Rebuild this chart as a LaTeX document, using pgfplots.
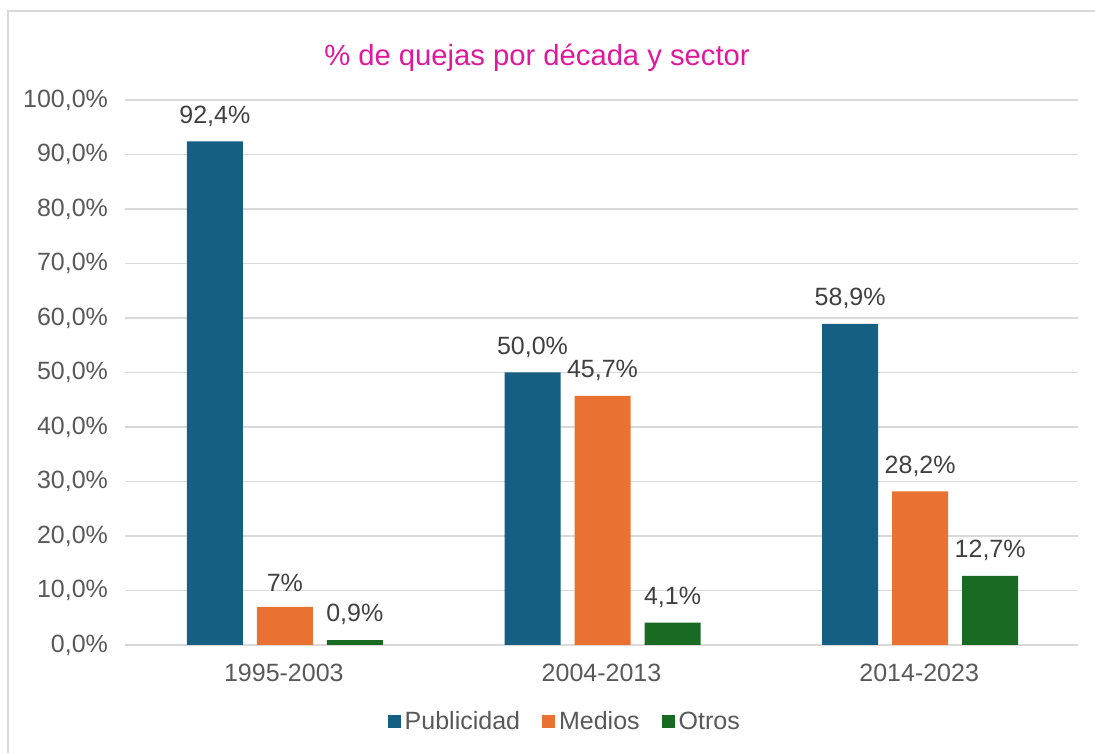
\documentclass[border=0pt]{standalone}
\usepackage{fontspec}
\setmainfont{Liberation Sans}
\usepackage{pgfplots}
\pgfplotsset{compat=1.18}

\definecolor{pub}{HTML}{156082}
\definecolor{med}{HTML}{E97132}
\definecolor{otr}{HTML}{196B24}
\definecolor{gridc}{HTML}{D9D9D9}
\definecolor{txt}{HTML}{595959}
\definecolor{lbl}{HTML}{404040}
\definecolor{ttl}{HTML}{E0189B}

\begin{document}
\begin{tikzpicture}
\begin{axis}[
  at={(0,0)}, anchor=south west,
  scale only axis, width=476.5pt, height=272.5pt,
  ybar, bar width=28pt,
  xmin=-0.5, xmax=2.5, ymin=0, ymax=100,
  enlargelimits=false,
  axis line style={draw=none},
  major tick length=0pt,
  ymajorgrids, grid style={gridc, line width=0.75pt},
  xtick={0,1,2}, xticklabels={1995-2003,2004-2013,2014-2023},
  ytick={0,10,20,30,40,50,60,70,80,90,100},
  yticklabels={{0,0\%},{10,0\%},{20,0\%},{30,0\%},{40,0\%},{50,0\%},{60,0\%},{70,0\%},{80,0\%},{90,0\%},{100,0\%}},
  ticklabel style={font=\fontsize{12.5}{15}\selectfont, text=txt},
  xticklabel style={yshift=-6pt},
  yticklabel style={xshift=-5pt},
  point meta=explicit symbolic,
  nodes near coords,
  nodes near coords style={font=\fontsize{12.5}{15}\selectfont, text=lbl, anchor=south, yshift=4pt},
  legend columns=3,
  legend style={at={(0.4625,-0.141)}, anchor=center, draw=none,
    font=\fontsize{12.5}{15}\selectfont, text=txt,
    /tikz/every even column/.append style={column sep=9pt}},
  legend image code/.code={\fill[#1] (0pt,-3.25pt) rectangle (6.5pt,3.25pt);},
]
\addplot[fill=pub, draw=none, bar shift=-34.5pt] coordinates {(0,92.4) [92,4\%] (1,50.0) [50,0\%] (2,58.9) [58,9\%]};
\addplot[fill=med, draw=none, bar shift=0.5pt] coordinates {(0,7.0) [7\%] (1,45.7) [45,7\%] (2,28.2) [28,2\%]};
\addplot[fill=otr, draw=none, bar shift=35.5pt] coordinates {(0,0.9) [0,9\%] (1,4.1) [4,1\%] (2,12.7) [12,7\%]};
\legend{Publicidad, Medios, Otros}
\end{axis}
\node[text=ttl, font=\fontsize{14.6}{17}\selectfont] at (206pt,293.5pt) {\% de quejas por década y sector};
\draw[gridc, line width=0.75pt] (-58.5pt,-60pt) -- (-58.5pt,317pt) -- (490pt,317pt);
\pgfresetboundingbox
\useasboundingbox (-62.5pt,-54pt) rectangle (485pt,322.5pt);
\end{tikzpicture}
\end{document}
